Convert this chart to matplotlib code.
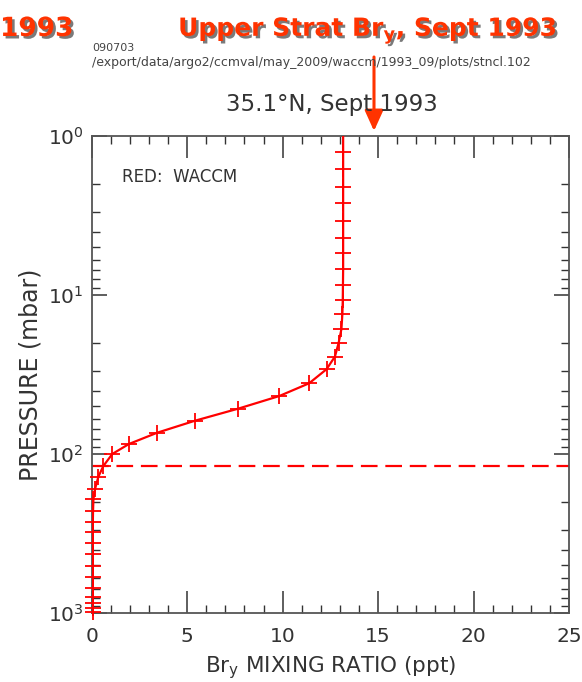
import matplotlib
matplotlib.use("Agg")
import matplotlib.pyplot as plt
import matplotlib.patheffects as pe
import numpy as np
from matplotlib.ticker import LogLocator, MultipleLocator, NullFormatter

# ---------------- data ----------------
pressure_mbar = [0.95, 1.26, 1.63, 2.09, 2.66, 3.42, 4.37, 5.48, 6.90, 8.66,
                 10.8, 13.2, 16.4, 20.1, 24.4, 29.3, 35.9, 43.2, 51.8, 61.7,
                 73.4, 86.4, 99.8, 118.8, 138.7, 166.4, 192.3, 227.6, 266.0,
                 310.0, 363.0, 424.0, 504.0, 594.0, 697.0, 787.0, 858.0,
                 931.0, 977.0]
bry_waccm_ppt = [13.17, 13.17, 13.17, 13.17, 13.17, 13.17, 13.17, 13.17, 13.17, 13.16,
                 13.15, 13.13, 13.08, 12.93, 12.74, 12.30, 11.39, 9.82, 7.68, 5.41,
                 3.43, 1.95, 1.08, 0.61, 0.35, 0.17, 0.09, 0.07, 0.06,
                 0.06, 0.05, 0.05, 0.05, 0.05, 0.05, 0.05, 0.05,
                 0.05, 0.05]
tropopause_mbar = 119.0
x_limits = [0, 25]
y_limits = [1000, 1]

main_title = "Upper Strat Br$_\\mathbf{y}$, Sept 1993"
corner_title = "1993"
stamp_date = "090703"
stamp_path = "/export/data/argo2/ccmval/may_2009/waccm/1993_09/plots/stncl.102"
sub_title = "35.1°N, Sept 1993"
legend_text = "RED:  WACCM"
x_label = "Br$_\\mathregular{y}$ MIXING RATIO (ppt)"
y_label = "PRESSURE (mbar)"

# ---------------- figure ----------------
W, H = 582, 682
plt.rcParams['font.family'] = ['DejaVu Sans']
plt.rcParams['mathtext.fontset'] = 'custom'
plt.rcParams['mathtext.bf'] = 'DejaVu Sans:bold'
plt.rcParams['mathtext.rm'] = 'DejaVu Sans'
fig = plt.figure(figsize=(W / 100, H / 100), dpi=100)

def fx(px):
    return px / W

def fy(py):
    return 1 - py / H

left, right, top, bottom = 91.7, 569.0, 135.7, 613.3
ax = fig.add_axes([fx(left), fy(bottom), (right - left) / W, (bottom - top) / H])

red = '#ff0000'
ax.plot(bry_waccm_ppt, pressure_mbar, color=red, lw=1.6, zorder=3)
p_arr = np.array(pressure_mbar)
b_arr = np.array(bry_waccm_ppt)
inside = (p_arr >= min(y_limits)) & (p_arr <= max(y_limits))
ax.plot(b_arr[inside], p_arr[inside], linestyle='none', marker='+',
        markersize=12, markeredgewidth=1.3, color=red, clip_on=False, zorder=4)
ax.axhline(tropopause_mbar, color=red, lw=1.6, linestyle=(0, (7.5, 3.5)), zorder=2)

ax.set_yscale('log')
ax.set_xlim(x_limits)
ax.set_ylim(y_limits)

spine_col = '#555555'
for s in ax.spines.values():
    s.set_color(spine_col)
    s.set_linewidth(1.3)

ax.xaxis.set_major_locator(MultipleLocator(5))
ax.xaxis.set_minor_locator(MultipleLocator(1))
ax.yaxis.set_major_locator(LogLocator(base=10))
ax.yaxis.set_minor_locator(LogLocator(base=10, subs=np.arange(2, 10)))
ax.yaxis.set_minor_formatter(NullFormatter())

ax.tick_params(axis='x', which='major', direction='in', length=16, width=1.1,
               top=True, bottom=True, labelsize=14.5, pad=10, colors='#333333')
ax.tick_params(axis='x', which='minor', direction='in', length=6, width=1.0,
               top=True, bottom=True, colors='#333333')
ax.tick_params(axis='y', which='major', direction='in', length=11, width=1.1,
               left=True, right=True, labelsize=14.5, pad=6, colors='#333333')
ax.tick_params(axis='y', which='minor', direction='in', length=6, width=1.0,
               left=True, right=True, colors='#333333')

ax.set_xlabel(x_label, fontsize=15.5, color='#333333', labelpad=6)
ax.set_ylabel(y_label, fontsize=17, color='#333333', labelpad=4)

ax.text((121.7 - left) / (right - left), 1 - (176.7 - top) / (bottom - top),
        legend_text, transform=ax.transAxes, fontsize=12, color='#333333',
        va='center', ha='left')

# titles and stamps
fig.text(fx(332), fy(111), sub_title, ha='center', va='baseline',
         fontsize=16.5, color='#333333')
fig.text(fx(92), fy(51), stamp_date, ha='left', va='baseline',
         fontsize=8, color='#444444')
fig.text(fx(92), fy(66), stamp_path, ha='left', va='baseline',
         fontsize=9.0, color='#444444')

title_col = '#ff3300'
shadow = [pe.SimplePatchShadow(offset=(1.8, -1.8), shadow_rgbFace='#222222', alpha=0.6),
          pe.Normal()]
fig.text(fx(557), fy(36), main_title, ha='right', va='baseline', fontsize=18,
         fontweight='bold', color=title_col, path_effects=shadow)
fig.text(fx(0), fy(36), corner_title, ha='left', va='baseline', fontsize=19,
         fontweight='bold', color=title_col, path_effects=shadow)

fig.patches.append(matplotlib.patches.FancyArrowPatch(
    (fx(374), fy(57)), (fx(374), fy(131)), transform=fig.transFigure,
    arrowstyle='-|>,head_length=0.62,head_width=0.28', mutation_scale=20,
    color=title_col, lw=2.2, shrinkA=0, shrinkB=0))

fig.savefig('out.png', dpi=100)
